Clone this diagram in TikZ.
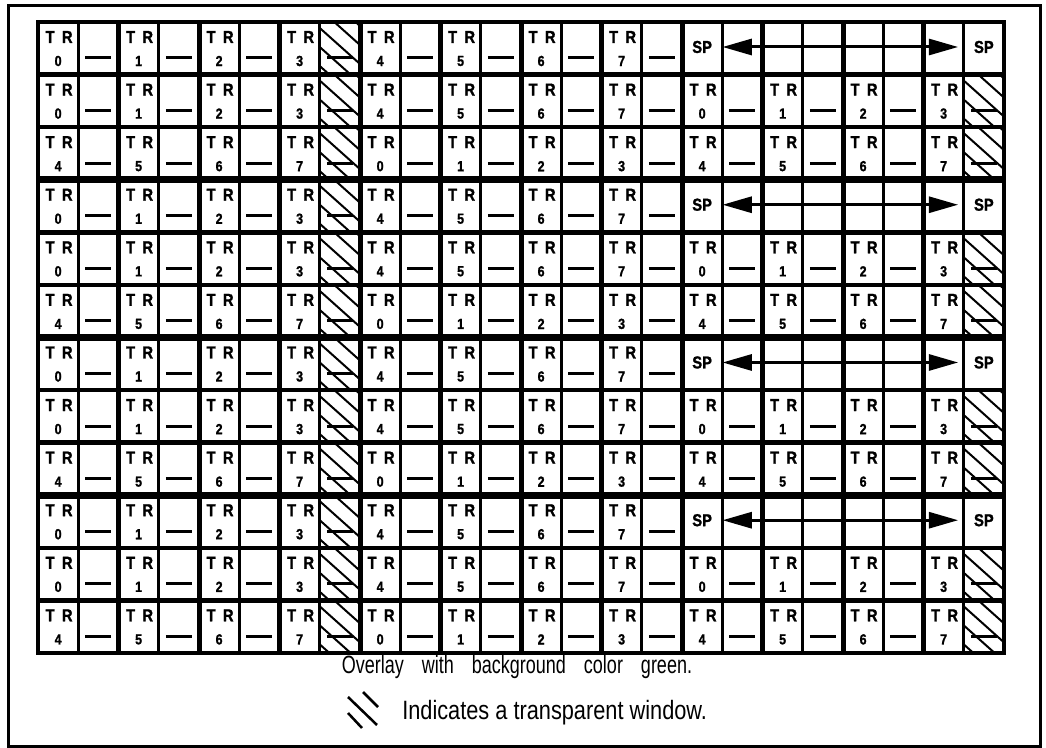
\documentclass[tikz,border=0pt]{standalone}
\usepackage{fontspec}
\setmainfont{Liberation Sans}
\newfontfamily\cellfont[FakeStretch=0.85,FakeBold=1.2]{Liberation Sans}
\newfontfamily\notefont[FakeStretch=0.72,WordSpace=3.6]{Liberation Sans}
\newfontfamily\legendfont[FakeStretch=0.82]{Liberation Sans}
\usetikzlibrary{arrows.meta, positioning}

\tikzset{
    trlab/.style={font=\cellfont\bfseries\fontsize{13}{14}\selectfont, inner sep=0pt},
    numlab/.style={font=\cellfont\bfseries\fontsize{11}{12}\selectfont, inner sep=0pt},
    splab/.style={font=\cellfont\bfseries\fontsize{13}{14}\selectfont, inner sep=0pt, minimum width=30.19pt},
    dashmark/.style={line width=2.25pt},
    hatchline/.style={line width=1.5pt},
    sparrow/.style={line width=2.25pt, {Triangle[length=22pt,width=12pt]}-{Triangle[length=22pt,width=12pt]}, shorten >=4pt},
}

\begin{document}
\begin{tikzpicture}[x=0.75pt, y=-0.75pt]
        % Define dimensions
        \def\gx{38}
        \def\gy{22}
        \def\colw{40.25}
        \def\rowh{52.58}
        \useasboundingbox (0,0) rectangle (1046,748);
        % Outer frame
        \draw[line width=2.25pt] (8,6) rectangle (1040,746);
        % Cell contents, row by row
        \foreach \r in {1,...,12} {
            \pgfmathtruncatemacro{\kind}{mod(\r-1,3)} % 0: SP row, 1: TR 0 row, 2: TR 4 row
            \pgfmathsetmacro{\rowtop}{\gy+(\r-1)*\rowh}
            \foreach \c in {1,...,24} {
                \pgfmathsetmacro{\cx}{\gx+(\c-0.5)*\colw}
                \pgfmathtruncatemacro{\spcell}{(\kind==0)&&(\c>16)}
                \ifnum\spcell=0
                    \ifodd\c
                        \pgfmathtruncatemacro{\trnum}{mod((\c-1)/2+4*(\kind==2),8)}
                        \node[trlab] (tr\r-\c) at (\cx+1,\rowtop+15) {T\hspace{5.5pt}R};
                        \node[numlab] (num\r-\c) at (\cx,\rowtop+39) {\trnum};
                    \else
                        \pgfmathtruncatemacro{\window}{(\c==8)||(\c==24)}
                        \ifnum\window=1
                            \begin{scope}
                                \clip (\cx-0.5*\colw,\rowtop) rectangle (\cx+0.5*\colw,\rowtop+\rowh);
                                \foreach \k in {-4,...,3}
                                    \draw[hatchline] (\cx-0.5*\colw,\rowtop+\k*19+6) -- ++(\colw,36);
                            \end{scope}
                        \fi
                        \draw[dashmark] (\cx-13,\rowtop+36) -- (\cx+13,\rowtop+36);
                    \fi
                \fi
            }
        }
        % Horizontal rules, heavier under every third row
        \foreach \r in {1,...,11} {
            \pgfmathtruncatemacro{\heavy}{mod(\r,3)==0}
            \ifnum\heavy=1 \def\lw{5.25pt}\else\def\lw{3.4pt}\fi
            \draw[line width=\lw] (\gx,\gy+\r*\rowh) -- (\gx+24*\colw,\gy+\r*\rowh);
        }
        % Vertical rules, heavier before every TR column
        \foreach \c in {1,...,23} {
            \ifodd\c \def\lw{2.25pt}\else\def\lw{3.75pt}\fi
            \draw[line width=\lw] (\gx+\c*\colw,\gy) -- (\gx+\c*\colw,\gy+12*\rowh);
        }
        \draw[line width=3.4pt] (\gx,\gy) rectangle (\gx+24*\colw,\gy+12*\rowh);
        % SP rows with the double arrow
        \foreach \r in {1,4,7,10} {
            \pgfmathsetmacro{\rowtop}{\gy+(\r-1)*\rowh}
            \node[splab] (spl\r) at (\gx+16.5*\colw,\rowtop+25) {SP};
            \node[splab] (spr\r) at (\gx+23.5*\colw,\rowtop+25) {SP};
            \draw[sparrow] (spl\r) -- (spr\r);
        }
        % Caption and legend
        \node[font=\notefont\fontsize{18.75}{20}\selectfont, anchor=base, inner sep=0pt] (note) at (517,673) {Overlay with background color green.};
        \draw[line width=1.9pt] (363,692) -- (378,707) (348,697) -- (377,725) (348,713) -- (362,728);
        \node[font=\legendfont\fontsize{19.9}{22}\selectfont, anchor=base west, inner sep=0pt] (legend) at (402,719) {Indicates a transparent window.};
    \end{tikzpicture}
\end{document}
